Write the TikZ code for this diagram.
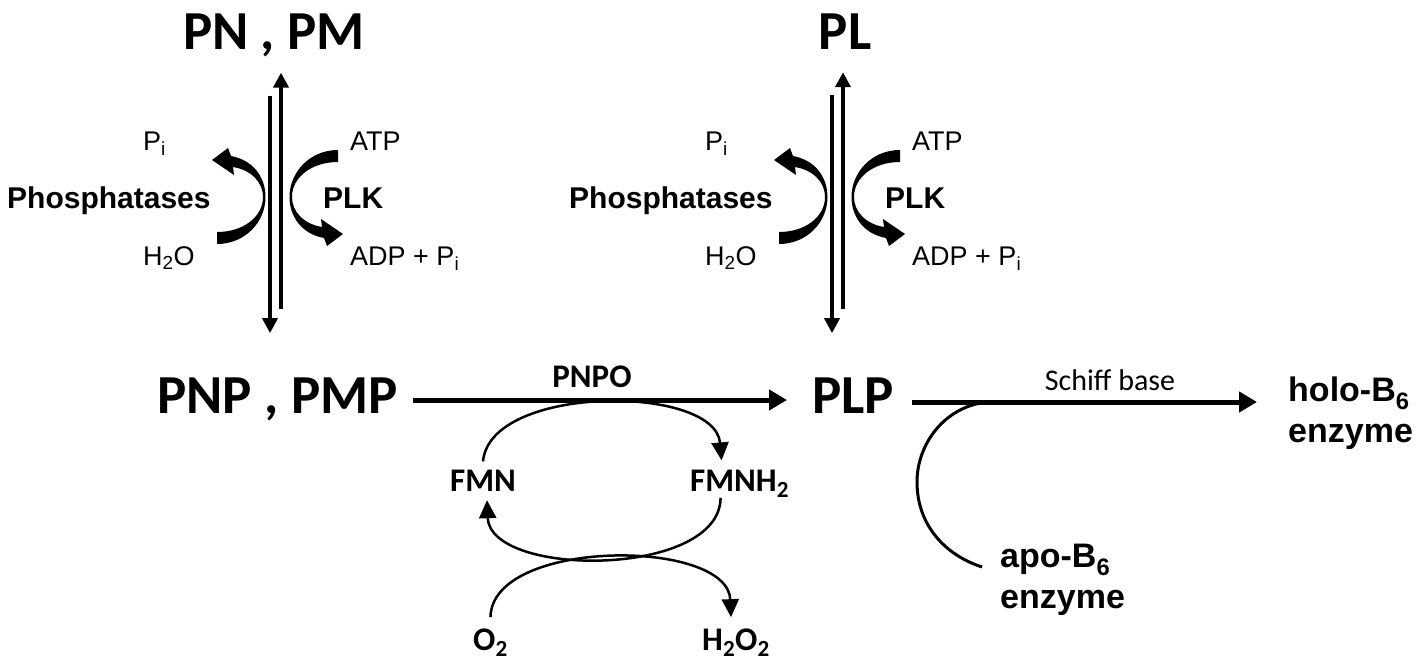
\documentclass[tikz,border=0pt]{standalone}
\usepackage{fontspec}
\setmainfont{Liberation Sans}
\newfontfamily\calibri{Carlito}
\usetikzlibrary{arrows.meta}

\tikzset{
  flux/.pic={
    \fill (-46,-35) .. controls (-20,-35) and (0,-20) .. (0,0)
      .. controls (0,15) and (-12,27) .. (-30,30)
      -- (-29,22) -- (-51,37) -- (-35,49) -- (-32,41)
      .. controls (-10,37) and (2.5,20) .. (2.5,0)
      .. controls (2.5,-25) and (-18,-47) .. (-46,-47) -- cycle;
  }
}

\begin{document}
\begin{tikzpicture}[x=1pt,y=1pt]
\tikzstyle{big}=[inner sep=0pt,font=\calibri\bfseries\fontsize{55}{60}\selectfont]
\tikzstyle{mid}=[inner sep=0pt,font=\calibri\bfseries\fontsize{33}{38}\selectfont]
\tikzstyle{sch}=[inner sep=0pt,font=\calibri\fontsize{30}{34}\selectfont]
\tikzstyle{chem}=[inner sep=0pt,font=\fontsize{27}{30}\selectfont]
\tikzstyle{enzyme}=[inner sep=0pt,font=\bfseries\fontsize{30}{33}\selectfont]
\tikzstyle{apo}=[inner sep=0pt,align=left,font=\bfseries\fontsize{34}{41}\selectfont]
\tikzstyle{conv}=[line width=5pt,-{Triangle[length=18pt,width=20pt]}]
\tikzstyle{vert}=[line width=4.2pt,-{Triangle[length=15pt,width=15pt]}]
\tikzstyle{cyc}=[line width=2.5pt,-{Triangle[length=18pt,width=17pt]}]
\useasboundingbox (0,0) rectangle (1420,-661);

\node[big,anchor=base] (pnpm) at (274,-50) {PN , PM};
\node[big,anchor=base] (pl) at (845,-50) {PL};
\node[big,anchor=base west] (pnp) at (157,-413) {PNP , PMP};
\node[big,anchor=base west] (plp) at (812,-413) {PLP};

% PN, PM <-> PNP, PMP
\node[chem,anchor=base west] (pi1) at (143,-150) {P\textsubscript{i}};
\node[chem,anchor=base west] (atp1) at (350,-150) {ATP};
\node[enzyme,anchor=base west] (pase1) at (7,-208) {Phosphatases};
\node[enzyme,anchor=base west] (plk1) at (323,-208) {PLK};
\node[chem,anchor=base west] (water1) at (143,-265) {H\textsubscript{2}O};
\node[chem,anchor=base west] (adp1) at (350,-265) {ADP + P\textsubscript{i}};
\pic at (263,-197) {flux};
\pic[rotate=180] at (292,-197) {flux};
\draw[vert,shorten <=38pt,shorten >=44pt] (pnpm.south -| 270,0) -- (pnp.north -| 270,0);
\draw[vert,shorten <=68pt,shorten >=15pt] (pnp.north -| 281,0) -- (pnpm.south -| 281,0);

% PL <-> PLP
\node[chem,anchor=base west] (pi2) at (705,-150) {P\textsubscript{i}};
\node[chem,anchor=base west] (atp2) at (912,-150) {ATP};
\node[enzyme,anchor=base west] (pase2) at (569,-208) {Phosphatases};
\node[enzyme,anchor=base west] (plk2) at (885,-208) {PLK};
\node[chem,anchor=base west] (water2) at (705,-265) {H\textsubscript{2}O};
\node[chem,anchor=base west] (adp2) at (912,-265) {ADP + P\textsubscript{i}};
\pic at (825,-197) {flux};
\pic[rotate=180] at (854,-197) {flux};
\draw[vert,shorten <=45pt,shorten >=44pt] (pl.south -| 832,0) -- (plp.north -| 832,0);
\draw[vert,shorten <=68pt,shorten >=22pt] (plp.north -| 843,0) -- (pl.south -| 843,0);

% PNPO
\coordinate (row) at (0,-400);
\draw[conv,shorten <=15pt,shorten >=25pt] (pnp.east |- row) -- (plp.west |- row);
\node[mid,anchor=base] (pnpo) at (592,-387) {PNPO};

\node[mid,anchor=base] (fmn) at (483,-491) {FMN};
\node[mid,anchor=base west] (fmnh) at (690,-491) {FMNH\textsubscript{2}};
\node[mid,anchor=base west] (otwo) at (473,-650) {O\textsubscript{2}};
\node[mid,anchor=base west] (perox) at (702,-650) {H\textsubscript{2}O\textsubscript{2}};
\draw[cyc] ([yshift=8pt]fmn.north) .. controls (490,-384) and (715,-384) .. ([xshift=-18pt,yshift=9pt]fmnh.north);
\draw[cyc] ([xshift=-19pt]fmnh.south) .. controls (720,-578) and (490,-578) .. ([xshift=4pt,yshift=-9pt]fmn.south);
\draw[cyc] ([yshift=11pt]otwo.north) .. controls (492,-538) and (728,-538) .. ([xshift=-5pt,yshift=11pt]perox.north);

% Schiff base
\node[apo,anchor=north west] (holo) at (1288,-377) {holo-B\textsubscript{6}\\enzyme};
\node[apo,anchor=north west] (apo) at (1000,-544) {apo-B\textsubscript{6}\\enzyme};
\node[sch,anchor=base] (schiff) at (1110,-390) {Schiff base};
\coordinate (row2) at (0,-402);
\draw[conv,shorten <=18pt,shorten >=31pt] (plp.east |- row2) -- (holo.west |- row2);
\coordinate (bind) at (993,-402);
\coordinate (apoend) at (982,-567);
\draw[line width=3pt] (bind) .. controls (950,-402) and (917,-440) .. (917,-482)
  .. controls (917,-525) and (945,-555) .. (apoend);
\end{tikzpicture}
\end{document}
